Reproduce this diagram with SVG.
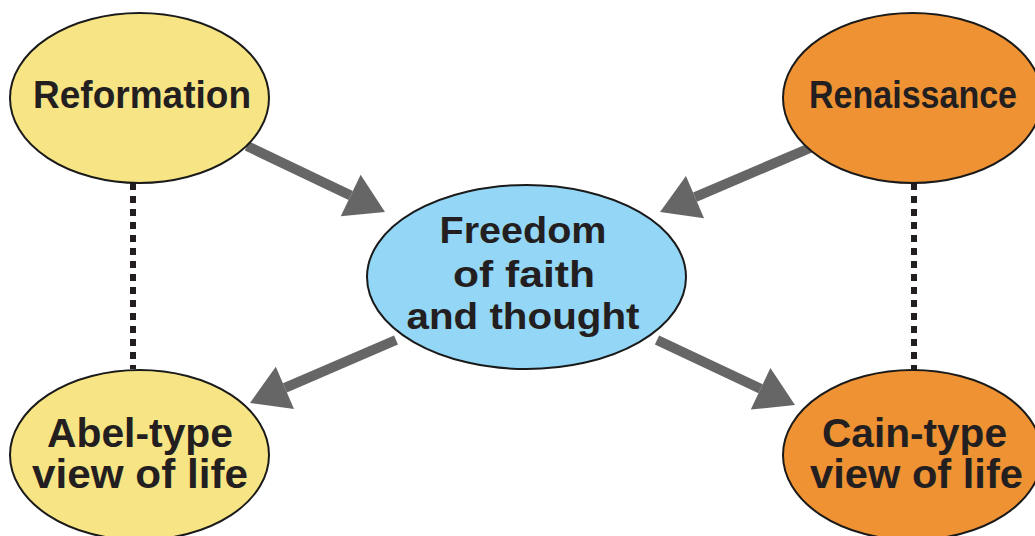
<svg xmlns="http://www.w3.org/2000/svg" width="1035" height="536" viewBox="0 0 1035 536">
<style>
.node{stroke:#1a1a1a;stroke-width:2}
.yellow{fill:#F7E585}
.orange{fill:#EE9233}
.blue{fill:#93D6F5}
.lbl{font-family:"Liberation Sans",Arial,sans-serif;font-weight:bold;fill:#231F20;text-anchor:middle}
.s39{font-size:39px}
.s37{font-size:37px}
.s41{font-size:41px}
.arrow{stroke:#666666;stroke-width:10;fill:none}
.dot{stroke:#231F20;stroke-width:6;stroke-dasharray:7 6;fill:none}
</style>
<defs>
<marker id="ah" markerUnits="userSpaceOnUse" markerWidth="40" markerHeight="48" refX="0" refY="23" orient="auto" overflow="visible">
<path d="M0,0 L38,23 L0,46 Z" fill="#666666"/>
</marker>
</defs>
<rect width="1035" height="536" fill="#ffffff"/>
<g id="connectors">
<line class="dot" x1="133" y1="183" x2="133" y2="369"/>
<line class="dot" x1="914" y1="183" x2="914" y2="370"/>
<line class="arrow" x1="247" y1="146" x2="350.7" y2="195.6" marker-end="url(#ah)"/>
<line class="arrow" x1="810" y1="148" x2="695" y2="197.1" marker-end="url(#ah)"/>
<line class="arrow" x1="396" y1="340" x2="284.9" y2="387.9" marker-end="url(#ah)"/>
<line class="arrow" x1="657" y1="340" x2="760.6" y2="388.8" marker-end="url(#ah)"/>
</g>
<g id="reformation">
<ellipse class="node yellow" cx="139.5" cy="98" rx="129.5" ry="85"/>
<text class="lbl s39" x="142" y="108" textLength="218" lengthAdjust="spacingAndGlyphs">Reformation</text>
</g>
<g id="renaissance">
<ellipse class="node orange" cx="912.5" cy="98" rx="129.5" ry="85"/>
<text class="lbl s39" x="913" y="108" textLength="208" lengthAdjust="spacingAndGlyphs">Renaissance</text>
</g>
<g id="freedom">
<ellipse class="node blue" cx="526.5" cy="277" rx="159.5" ry="92"/>
<text class="lbl s37" x="523" y="243" textLength="167" lengthAdjust="spacingAndGlyphs">Freedom</text>
<text class="lbl s37" x="524" y="287" textLength="142" lengthAdjust="spacingAndGlyphs">of faith</text>
<text class="lbl s37" x="523" y="329" textLength="233" lengthAdjust="spacingAndGlyphs">and thought</text>
</g>
<g id="abel">
<ellipse class="node yellow" cx="139.5" cy="455" rx="129.5" ry="85"/>
<text class="lbl s41" x="140" y="447" textLength="186" lengthAdjust="spacingAndGlyphs">Abel-type</text>
<text class="lbl s41" x="140" y="488" textLength="216" lengthAdjust="spacingAndGlyphs">view of life</text>
</g>
<g id="cain">
<ellipse class="node orange" cx="912.5" cy="455" rx="129.5" ry="85"/>
<text class="lbl s41" x="914.5" y="447" textLength="185" lengthAdjust="spacingAndGlyphs">Cain-type</text>
<text class="lbl s41" x="916.5" y="488" textLength="213" lengthAdjust="spacingAndGlyphs">view of life</text>
</g>
</svg>
